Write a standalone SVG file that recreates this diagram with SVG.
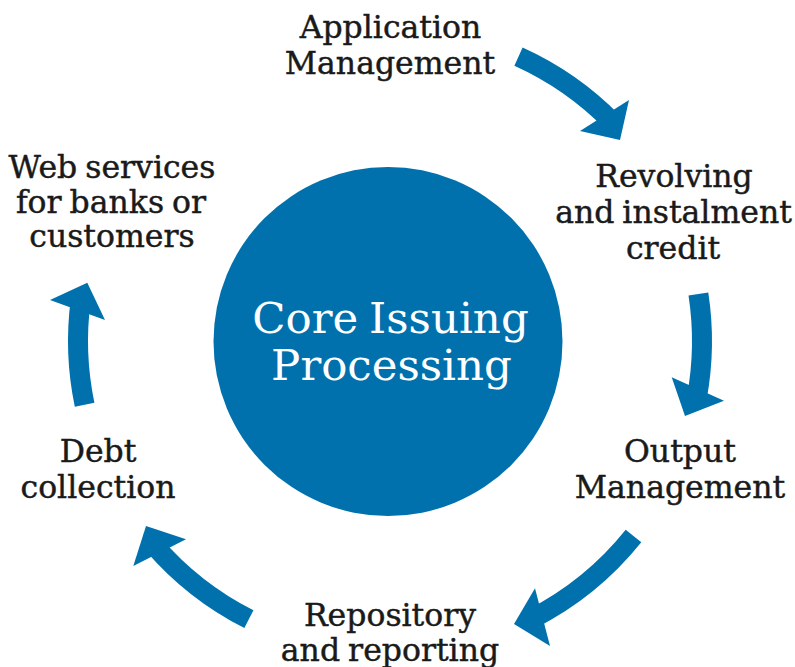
<svg xmlns="http://www.w3.org/2000/svg" width="795" height="667" viewBox="0 0 795 667">
<style>
.lbl{font-family:"DejaVu Serif","Liberation Serif",serif;font-size:31.5px;fill:#1a1a1a;stroke:#1a1a1a;stroke-width:0.45;text-anchor:middle;word-spacing:-2px}
.core{font-family:"DejaVu Serif","Liberation Serif",serif;font-size:43.5px;fill:#ffffff;text-anchor:middle;word-spacing:-3px}
.shaft{fill:none;stroke:#0071ad;stroke-width:20;stroke-linecap:butt}
.head{fill:#0071ad}
</style>
<rect width="795" height="667" fill="#ffffff"/>
<g id="core">
<circle cx="388" cy="341.5" r="174.5" fill="#0071ad"/>
<text class="core" x="390.5" y="333">Core Issuing</text>
<text class="core" x="391.5" y="380">Processing</text>
</g>
<g id="application">
<text class="lbl" x="390.5" y="37.5">Application</text>
<text class="lbl" x="390" y="74">Management</text>
</g>
<g id="revolving">
<text class="lbl" x="674" y="187">Revolving</text>
<text class="lbl" x="673.5" y="223">and instalment</text>
<text class="lbl" x="673" y="259">credit</text>
</g>
<g id="output">
<text class="lbl" x="680" y="462">Output</text>
<text class="lbl" x="680" y="498">Management</text>
</g>
<g id="repository">
<text class="lbl" x="390" y="626">Repository</text>
<text class="lbl" x="390" y="661">and reporting</text>
</g>
<g id="debt">
<text class="lbl" x="98" y="462">Debt</text>
<text class="lbl" x="98" y="498">collection</text>
</g>
<g id="web">
<text class="lbl" x="112" y="178">Web services</text>
<text class="lbl" x="111" y="212.5">for banks or</text>
<text class="lbl" x="112" y="247">customers</text>
</g>
<g id="connectors">
<path class="shaft" d="M518.5 56.7 A312 312 0 0 1 612.5 122.3"/>
<polygon class="head" points="629,100 620,140 580,131"/>
<path class="shaft" d="M698.4 294.1 A312 312 0 0 1 696.8 397.8"/>
<polygon class="head" points="671.7,377.3 724,400.7 685,416"/>
<path class="shaft" d="M633.5 536.1 A312 312 0 0 1 531.6 619"/>
<polygon class="head" points="535,588.3 550,646 514,624"/>
<path class="shaft" d="M248.9 619.2 A312 312 0 0 1 153.5 544.5"/>
<polygon class="head" points="186,539.3 133.3,566 146,526"/>
<path class="shaft" d="M84.6 404.8 A312 312 0 0 1 80.7 300.3"/>
<polygon class="head" points="50,300 105,320 87.3,282.7"/>
</g>
</svg>
